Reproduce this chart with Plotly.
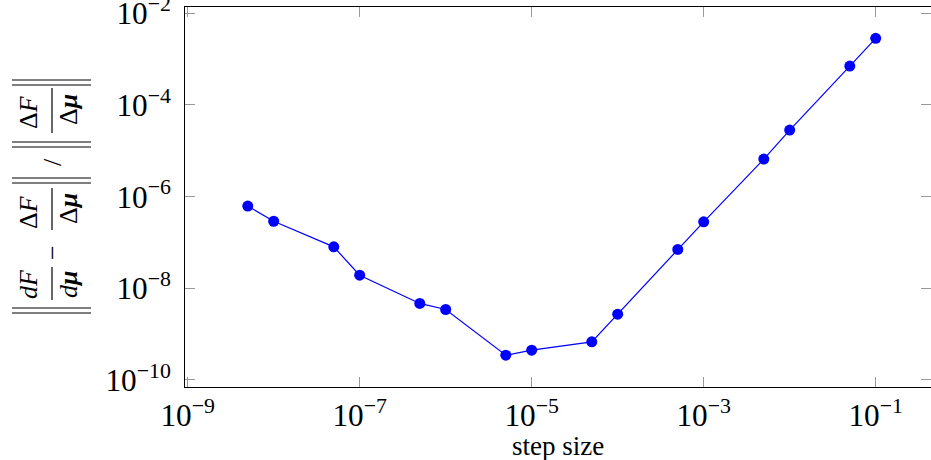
import plotly.graph_objects as go

# ---- data ----
step_size = [5e-9, 1e-8, 5e-8, 1e-7, 5e-7, 1e-6, 5e-6, 1e-5, 5e-5, 1e-4,
             5e-4, 1e-3, 5e-3, 1e-2, 5e-2, 1e-1]
rel_error = [6.2e-7, 2.9e-7, 8.0e-8, 1.93e-8, 4.66e-9, 3.44e-9, 3.46e-10, 4.45e-10,
             6.76e-10, 2.72e-9, 7.03e-8, 2.82e-7, 6.59e-6, 2.83e-5, 7.07e-4, 2.84e-3]

W, H = 931, 460
L, R, T, B = 185, 0, 7, 73
PW, PH = W - L - R, H - T - B


def px(x):
    return (x - L) / PW


def py(y):
    return 1 - (y - T) / PH


FONT = "Liberation Serif"

fig = go.Figure()
fig.add_trace(go.Scatter(
    x=step_size, y=rel_error, mode="lines+markers",
    line=dict(color="#0000ff", width=1.2),
    marker=dict(color="#0000ff", size=11, line=dict(width=0)),
    showlegend=False, cliponaxis=False,
))

axis_common = dict(
    type="log", showgrid=False, zeroline=False, automargin=False,
    showline=True, linecolor="black", linewidth=1.2, mirror="allticks",
    ticks="inside", ticklen=10, tickcolor="#999999", tickwidth=1,
    exponentformat="power", dtick=2, ticklabeloverflow="allow",
    tickfont=dict(family=FONT, size=25, color="black"),
)

fig.update_xaxes(range=[-9.031, -0.357], tick0=-1, ticklabelstandoff=2, **axis_common)
fig.update_yaxes(range=[-10.155, -1.862], tick0=0, ticklabelstandoff=8, **axis_common)

shapes = []
annotations = []

# x axis title
annotations.append(dict(text="step size", x=0.5, y=py(446), xref="paper", yref="paper",
                        xanchor="center", yanchor="middle", showarrow=False,
                        font=dict(family=FONT, size=27, color="black")))

# y axis label built from pieces (rotated)
def txt(t, x, y, size=26):
    annotations.append(dict(text=t, x=px(x), y=py(y), xref="paper", yref="paper",
                            xanchor="center", yanchor="middle", showarrow=False,
                            textangle=-90, font=dict(family=FONT, size=size, color="black")))


def hline(y, x0=12, x1=91):
    shapes.append(dict(type="line", xref="paper", yref="paper",
                       x0=px(x0), x1=px(x1), y0=py(y), y1=py(y),
                       line=dict(color="black", width=1.2)))


def vline(x, y0, y1):
    shapes.append(dict(type="line", xref="paper", yref="paper",
                       x0=px(x), x1=px(x), y0=py(y0), y1=py(y1),
                       line=dict(color="black", width=1.2)))


for yy in [80, 85, 142, 147, 178, 183, 308, 313]:
    hline(yy)

# second norm: ΔF/Δμ
txt("Δ<i>F</i>", 28, 112)
txt("Δ<b><i>μ</i></b>", 68, 110)
vline(52, 88, 133)
# slash
txt("/", 52, 162)
# first norm: dF/dμ − ΔF/Δμ
txt("Δ<i>F</i>", 28, 212)
txt("Δ<b><i>μ</i></b>", 68, 209)
vline(52, 188, 230)
txt("−", 52, 253)
txt("<i>dF</i>", 28, 284)
txt("<i>d</i><b><i>μ</i></b>", 68, 285)
vline(52, 267, 300)

fig.update_layout(
    width=W, height=H,
    margin=dict(l=L, r=R, t=T, b=B, autoexpand=False),
    paper_bgcolor="white", plot_bgcolor="white",
    shapes=shapes, annotations=annotations,
)

fig.write_html("out.html", config={"displayModeBar": False},
               post_script="document.body.style.margin='0';document.body.style.overflow='hidden';")
